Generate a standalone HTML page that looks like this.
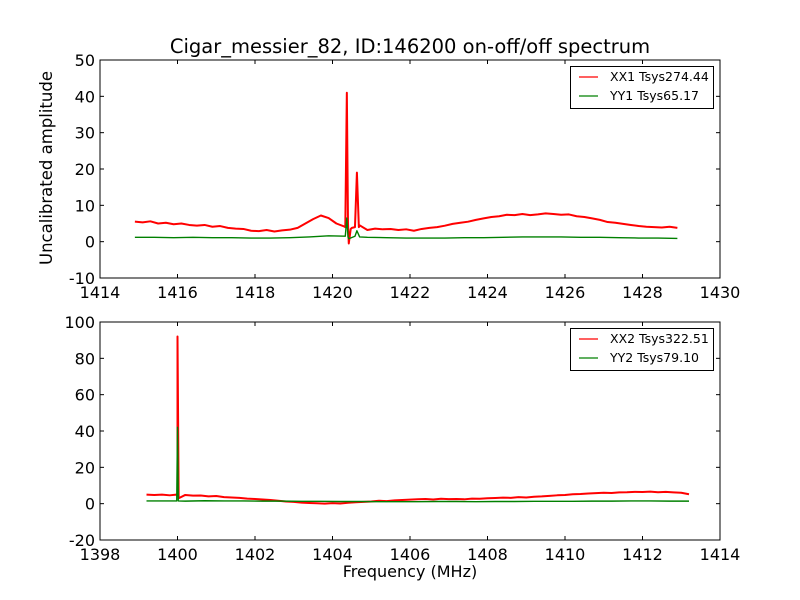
<!DOCTYPE html>
<html><head><meta charset="utf-8"><style>
html,body{margin:0;padding:0;background:#fff}
svg{display:block;font-family:"DejaVu Sans","Liberation Sans",sans-serif}
</style></head><body>
<svg id="chart" width="800" height="600">
<rect width="800" height="600" fill="#fff"/>
<text x="410" y="53" font-size="19.5" text-anchor="middle">Cigar_messier_82, ID:146200 on-off/off spectrum</text>
<text transform="translate(52,168) rotate(-90)" font-size="16.5" text-anchor="middle">Uncalibrated amplitude</text>
<text x="410" y="577" font-size="16" text-anchor="middle">Frequency (MHz)</text>
<g id="p1"></g>
<g id="p2"></g>
</svg>
<script>
// Top panel data
const topRedStart = 1414.9, topRedStep = 0.2;
const topRed = [5.5,5.3,5.6,5.0,5.2,4.8,5.0,4.6,4.4,4.6,4.1,4.3,3.8,3.6,3.5,3.0,2.9,3.2,2.8,3.1,3.3,3.8,5.0,6.2,7.2,6.5,5.0,4.2,3.8,4.5,3.2,3.6,3.4,3.5,3.2,3.4,3.0,3.5,3.8,4.0,4.4,4.9,5.2,5.5,6.0,6.4,6.8,7.0,7.4,7.3,7.6,7.3,7.5,7.8,7.6,7.4,7.5,7.0,6.8,6.4,6.0,5.4,5.2,4.9,4.6,4.3,4.1,4.0,3.9,4.1,3.8];
const topRedSpikes = [[1420.33,4],[1420.37,41],[1420.40,5],[1420.42,-0.5],[1420.47,3.5],[1420.58,4],[1420.63,19],[1420.68,4]];
const topGreenStart = 1414.9, topGreenStep = 0.5;
const topGreen = [1.2,1.2,1.1,1.2,1.1,1.1,1.0,1.0,1.1,1.3,1.6,1.3,1.2,1.1,1.0,1.0,1.0,1.1,1.1,1.2,1.3,1.3,1.3,1.2,1.2,1.1,1.0,1.0,0.9];
const topGreenSpikes = [[1420.33,1.5],[1420.37,6.5],[1420.42,0.8],[1420.58,1.5],[1420.63,3],[1420.7,1.3]];
const topXTicks = [1414,1416,1418,1420,1422,1424,1426,1428,1430];
const topYTicks = [-10,0,10,20,30,40,50];
const topLegend = ["XX1 Tsys274.44","YY1 Tsys65.17"];
// Bottom panel data
const botRedStart = 1399.2, botRedStep = 0.2;
const botRed = [5.0,4.8,5.0,4.6,4.5,4.8,4.4,4.5,4.0,4.2,3.6,3.4,3.2,2.8,2.6,2.3,2.0,1.6,1.2,1.0,0.6,0.4,0.2,0.0,0.3,0.1,0.5,0.8,1.0,1.2,1.6,1.4,1.8,2.0,2.2,2.4,2.6,2.3,2.7,2.5,2.6,2.4,2.8,2.7,3.0,3.1,3.3,3.2,3.6,3.4,3.8,4.0,4.3,4.6,4.8,5.2,5.3,5.6,5.8,6.0,5.9,6.2,6.3,6.5,6.4,6.6,6.3,6.5,6.2,6.0,5.2];
const botRedSpikes = [[1399.97,5],[1400.0,92],[1400.03,3]];
const botGreenStart = 1399.2, botGreenStep = 0.5;
const botGreen = [1.5,1.5,1.4,1.6,1.5,1.5,1.4,1.4,1.3,1.3,1.2,1.2,1.1,1.1,1.1,1.2,1.2,1.1,1.2,1.2,1.3,1.3,1.3,1.4,1.4,1.5,1.5,1.4,1.4];
const botGreenSpikes = [[1399.98,1.5],[1400.0,42],[1400.02,1.5]];
const botXTicks = [1398,1400,1402,1404,1406,1408,1410,1412,1414];
const botYTicks = [-20,0,20,40,60,80,100];
const botLegend = ["XX2 Tsys322.51","YY2 Tsys79.10"];

const NS = "http://www.w3.org/2000/svg";
function mk(parent, tag, attrs){const e=document.createElementNS(NS,tag);for(const k in attrs)e.setAttribute(k,attrs[k]);parent.appendChild(e);return e;}
function series(start, step, vals, spikes){
  const pts = vals.map((v,i)=>[start+i*step,v]).concat(spikes);
  pts.sort((a,b)=>a[0]-b[0]);
  return pts;
}
function panel(g, top, xTicks, yTicks, seriesList, legend, prefix){
  const L=100,R=720,T=top,B=top+218;
  const x0=xTicks[0],x1=xTicks[xTicks.length-1],y0=yTicks[0],y1=yTicks[yTicks.length-1];
  const sx=v=>L+(v-x0)/(x1-x0)*(R-L);
  const sy=v=>B-(v-y0)/(y1-y0)*(B-T);
  const colors=["#ff0000","#008000"];
  seriesList.forEach((pts,i)=>{
    const p=mk(g,"polyline",{points:pts.map(q=>sx(q[0]).toFixed(2)+","+sy(q[1]).toFixed(2)).join(" "),fill:"none",stroke:colors[i],"stroke-width":i==0?2:1.4,"stroke-linejoin":"round"});
    
    
  });
  const fr=mk(g,"rect",{x:L,y:T,width:R-L,height:B-T,fill:"none",stroke:"#000","stroke-width":1});
  
  
  xTicks.forEach(t=>{
    const x=sx(t);
    mk(g,"line",{x1:x,y1:B,x2:x,y2:B-4,stroke:"#000"});
    mk(g,"line",{x1:x,y1:T,x2:x,y2:T+4,stroke:"#000"});
    const tx=mk(g,"text",{x:x,y:B+20,"font-size":16,"text-anchor":"middle"});
    tx.textContent=t;
    
    
  });
  yTicks.forEach(t=>{
    const y=sy(t);
    mk(g,"line",{x1:L,y1:y,x2:L+4,y2:y,stroke:"#000"});
    mk(g,"line",{x1:R,y1:y,x2:R-4,y2:y,stroke:"#000"});
    const tx=mk(g,"text",{x:L-5,y:y+6,"font-size":16,"text-anchor":"end"});
    tx.textContent=t;
    
    
  });
  const lg=mk(g,"g",{});
  
  
  mk(lg,"rect",{x:570.5,y:T+6.5,width:143,height:42,fill:"#fff",stroke:"#000"});
  legend.forEach((s,i)=>{
    const y=T+17+i*19;
    mk(lg,"line",{x1:579,y1:y,x2:598,y2:y,stroke:colors[i],"stroke-width":1.2});
    const tx=mk(lg,"text",{x:610,y:y+4,"font-size":12.5});
    tx.textContent=s;
    
    
  });
}
panel(document.getElementById("p1"),60,topXTicks,topYTicks,
  [series(topRedStart,topRedStep,topRed,topRedSpikes),series(topGreenStart,topGreenStep,topGreen,topGreenSpikes)],topLegend,"top");
panel(document.getElementById("p2"),322,botXTicks,botYTicks,
  [series(botRedStart,botRedStep,botRed,botRedSpikes),series(botGreenStart,botGreenStep,botGreen,botGreenSpikes)],botLegend,"bottom");
</script>
</body></html>
